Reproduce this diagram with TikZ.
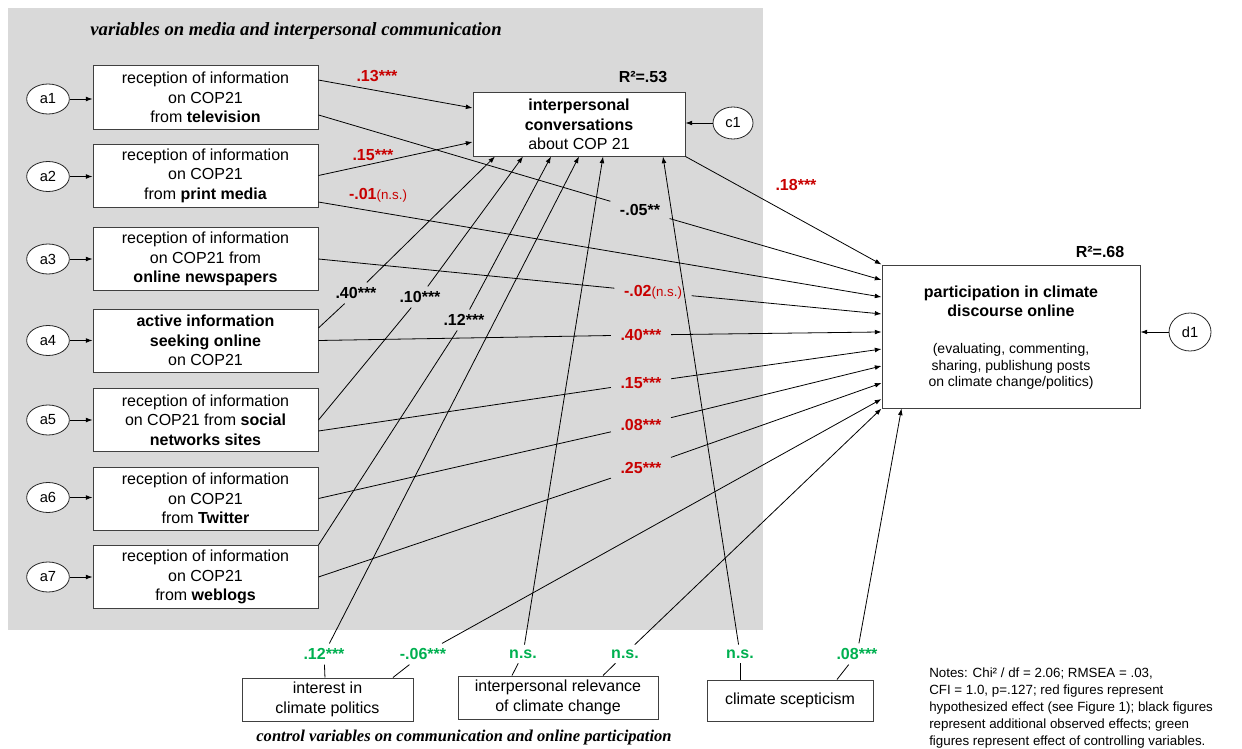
\documentclass[tikz,border=0pt]{standalone}
\usepackage{fontspec}
\setmainfont{Liberation Sans}
\newfontfamily\titlefont{Liberation Serif}
\usetikzlibrary{arrows.meta,shapes.geometric,calc}
\definecolor{bggray}{RGB}{217,217,217}
\definecolor{sigred}{RGB}{200,0,0}
\definecolor{siggreen}{RGB}{0,176,80}
\begin{document}
\begin{tikzpicture}[x=0.75pt,y=-0.75pt,
  box/.style={draw=black!75,line width=0.75pt,fill=white,align=center,inner sep=0pt,font=\fontsize{12}{14.6}\selectfont},
  lbox/.style={box,minimum width=168.75pt,minimum height=47.25pt},
  errv/.style={draw=black!85,line width=0.6pt,ellipse,fill=white,minimum width=32pt,minimum height=22.5pt,inner sep=0pt,font=\fontsize{11}{13}\selectfont},
  conn/.style={line width=0.6pt,-{Latex[length=5pt,width=3.6pt]}},
  seg/.style={line width=0.6pt},
  lab/.style={inner xsep=7pt,inner ysep=3.5pt,font=\fontsize{12}{14}\bfseries\selectfont},
  redlab/.style={lab,text=sigred},
  blklab/.style={lab,text=black},
  grnlab/.style={lab,text=siggreen},
  ttl/.style={font=\titlefont\fontsize{14}{16}\bfseries\itshape\selectfont}
]
\useasboundingbox (0,0) rectangle (1242,749);
\fill[bggray] (8,8) rectangle (763,630);
\newcommand{\nsx}{{\fontsize{10}{12}\mdseries(n.s.)}}

\node[ttl] (t1) at (296,31) {variables on media and interpersonal communication};
\node[ttl,font=\titlefont\fontsize{12.4}{14}\bfseries\itshape\selectfont] (t2) at (464,738) {control variables on communication and online participation};

% left boxes
\node[lbox] (b1) at (205.5,97.5) {reception of information\\on COP21\\from \textbf{television}};
\node[lbox] (b2) at (205.5,175.5) {reception of information\\on COP21\\from \textbf{print media}};
\node[lbox] (b3) at (205.5,259) {reception of information\\on COP21 from\\\textbf{online newspapers}};
\node[lbox] (b4) at (205.5,340.5) {\textbf{active information}\\\textbf{seeking online}\\on COP21};
\node[lbox] (b5) at (205.5,420) {reception of information\\on COP21 from \textbf{social}\\\textbf{networks sites}};
\node[lbox] (b6) at (205.5,498.5) {reception of information\\on COP21\\from \textbf{Twitter}};
\node[lbox] (b7) at (205.5,577) {reception of information\\on COP21\\from \textbf{weblogs}};
\foreach \i/\yy in {1/99,2/176.5,3/259,4/340.5,5/420,6/497.5,7/577}{
  \node[errv] (a\i) at (48,\yy) {a\i};
  \draw[conn] (a\i) -- (a\i -| b\i.west);
}

% central boxes
\node[box,minimum width=159pt,minimum height=47.25pt] (ic) at (579,124.5) {\textbf{interpersonal}\\\textbf{conversations}\\about COP 21};
\node[font=\fontsize{12}{14}\bfseries\selectfont] (r1) at (643,77) {R²=.53};
\node[errv,minimum width=30pt,minimum height=24pt] (c1) at (733,123) {c1};
\draw[conn] (c1) -- (c1 -| ic.east);

\node[box,minimum width=193.5pt,minimum height=107.25pt] (p) at (1011,336.5) {};
\node[align=center,font=\fontsize{12}{14.25}\bfseries\selectfont] (pt) at (1011,301.5) {participation in climate\\discourse online};
\node[align=center,font=\fontsize{10.5}{12.4}\selectfont] (ps) at (1011,366.5) {(evaluating, commenting,\\sharing, publishung posts\\on climate change/politics)};
\node[font=\fontsize{12}{14}\bfseries\selectfont] (r2) at (1100,252) {R²=.68};
\node[errv,minimum width=31.5pt,minimum height=28.5pt] (d1) at (1190,332) {d1};
\draw[conn] (d1) -- (d1 -| p.east);

% bottom boxes
\node[box,minimum width=128.25pt,minimum height=32.25pt] (ib) at (327.5,699.5) {interest in\\climate politics};
\node[box,minimum width=150pt,minimum height=32.25pt] (rb) at (558,697.5) {interpersonal relevance\\of climate change};
\node[box,minimum width=124.5pt,minimum height=30.75pt] (sb) at (790,700.5) {climate scepticism};

% notes
\node[align=left,anchor=west,inner sep=0pt,font=\fontsize{10}{12.6}\selectfont] (notes) at (929,708) {Notes: Chi² / df = 2.06; RMSEA = .03,\\CFI = 1.0, p=.127; red figures represent\\hypothesized effect (see Figure 1); black figures\\represent additional observed effects; green\\figures represent effect of controlling variables.};

% to interpersonal conversations
\draw[conn] ([yshift=13.1pt]b1.east) -- ([yshift=12.4pt]ic.west);
\node[redlab] (l1) at (377,76) {.13***};
\draw[conn] (b2.east) -- ([yshift=-13.1pt]ic.west);
\node[redlab] (l2) at (373,155) {.15***};

\node[blklab] (l3) at (356,293) {.40***};
\draw[seg] ([yshift=9.4pt]b4.east) -- (l3);
\draw[conn] (l3) -- ([xshift=-63pt]ic.south);

\node[blklab] (l4) at (420,297) {.10***};
\draw[seg] (b5.east) -- (l4);
\draw[conn] (l4) -- ([xshift=-42pt]ic.south);

\node[blklab] (l5) at (464,320) {.12***};
\draw[seg] (b7.north east) -- (l5);
\draw[conn] (l5) -- ([xshift=-21pt]ic.south);

\node[grnlab] (l6) at (324,654) {.12***};
\draw[seg] ([xshift=-1.9pt]ib.north) -- (l6);
\draw[conn] (l6) -- (ic.south);

\node[grnlab] (l7) at (523,654) {n.s.};
\draw[seg] ([xshift=-34.5pt]rb.north) -- (l7);
\draw[conn] (l7) -- ([xshift=18pt]ic.south);

\node[grnlab] (l8) at (740,654) {n.s.};
\draw[seg] ([xshift=-37.5pt]sb.north) -- (l8);
\draw[conn] (l8) -- ([xshift=63pt]ic.south);

% to participation
\draw[conn] (ic.south east) -- (p.north west);
\node[redlab] (l9) at (796,185) {.18***};

\node[blklab] (l10) at (640,210) {-.05**};
\draw[seg] ([yshift=-13.1pt]b1.east) -- (l10);
\draw[conn] (l10) -- ([yshift=42.4pt]p.west);

\draw[conn] ([yshift=-19.9pt]b2.east) -- ([yshift=29.6pt]p.west);
\node[redlab] (l11) at (378,195) {-.01\nsx};

\node[redlab] (l12) at (653,292) {-.02\nsx};
\draw[seg] (b3.east) -- (l12);
\draw[conn] (l12) -- ([yshift=16.9pt]p.west);

\node[redlab] (l13) at (641,335) {.40***};
\draw[seg] (b4.east) -- (l13);
\draw[conn] (l13) -- ([yshift=3.4pt]p.west);

\node[redlab] (l14) at (641,383) {.15***};
\draw[seg] ([yshift=-8.25pt]b5.east) -- (l14);
\draw[conn] (l14) -- ([yshift=-9.4pt]p.west);

\node[redlab] (l15) at (641,425) {.08***};
\draw[seg] (b6.east) -- (l15);
\draw[conn] (l15) -- ([yshift=-22.1pt]p.west);

\node[redlab] (l16) at (641,468) {.25***};
\draw[seg] (b7.east) -- (l16);
\draw[conn] (l16) -- ([yshift=-34.9pt]p.west);

\node[grnlab] (l17) at (423,654) {-.06***};
\draw[seg] ([xshift=49.1pt]ib.north) -- (l17);
\draw[conn] (l17) -- ([yshift=-46.9pt]p.west);

\node[grnlab] (l18) at (625,654) {n.s.};
\draw[seg] ([xshift=33.75pt]rb.north) -- (l18);
\draw[conn] (l18) -- (p.south west);

\node[grnlab] (l19) at (857,654) {.08***};
\draw[seg] ([xshift=35.25pt]sb.north) -- (l19);
\draw[conn] (l19) -- ([xshift=15pt]p.south west);
\end{tikzpicture}
\end{document}
